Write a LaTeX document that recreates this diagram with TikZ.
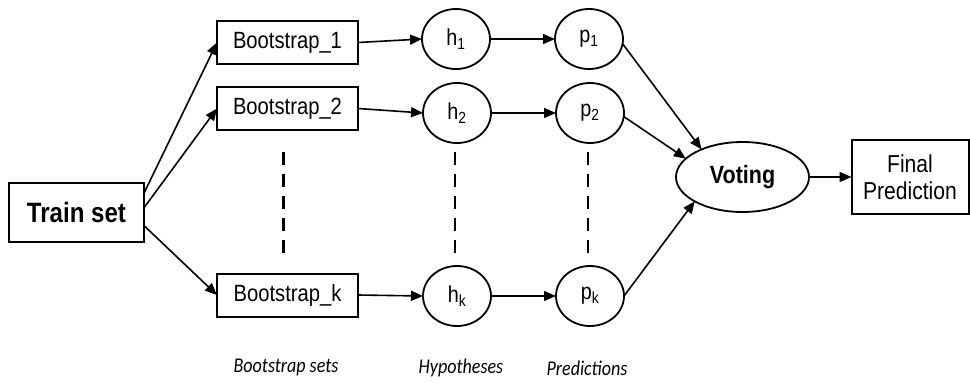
\documentclass[tikz,border=0pt]{standalone}
\usepackage{fontspec}
\setmainfont[FakeStretch=0.86]{Liberation Sans}
\newfontfamily\calib[FakeStretch=0.86]{Carlito}
\usetikzlibrary{arrows.meta,shapes.geometric}
\begin{document}
\begin{tikzpicture}[x=1pt,y=-1pt,
  every node/.style={inner sep=0pt,outer sep=0pt},
  boxnode/.style={draw,line width=2pt,rectangle,align=center},
  ovalnode/.style={draw,line width=1.8pt,ellipse},
  link/.style={line width=1.6pt,-{Triangle[length=12pt,width=10pt]}},
  gapline/.style={line width=2.8pt,dash pattern=on 13pt off 9pt},
  caption/.style={font=\calib\itshape\fontsize{21}{24}\selectfont},
  bootfont/.style={font=\fontsize{23.5}{26}\selectfont},
  circfont/.style={font=\fontsize{23}{26}\selectfont}]
\useasboundingbox (0,0) rectangle (970,383);
% input data
\node[boxnode,minimum width=135pt,minimum height=59pt,font=\bfseries\fontsize{28}{30}\selectfont] (train) at (76.5,212.5) {Train set};
% bootstrap samples
\node[boxnode,bootfont,minimum width=141pt,minimum height=43pt] (b1) at (287.5,42.5) {Bootstrap\_1};
\node[boxnode,bootfont,minimum width=141pt,minimum height=43pt] (b2) at (287.5,108.5) {Bootstrap\_2};
\node[boxnode,bootfont,minimum width=141pt,minimum height=43pt] (bk) at (287.5,295) {Bootstrap\_k};
% hypotheses
\node[ovalnode,circfont,minimum width=68pt,minimum height=60pt] (h1) at (456,39) {h\textsubscript{1}};
\node[ovalnode,circfont,minimum width=68pt,minimum height=60pt] (h2) at (457,113) {h\textsubscript{2}};
\node[ovalnode,circfont,minimum width=68pt,minimum height=60pt] (hk) at (457,296) {h\textsubscript{k}};
% predictions
\node[ovalnode,circfont,minimum width=68pt,minimum height=60pt] (p1) at (589,39) {p\textsubscript{1}};
\node[ovalnode,circfont,minimum width=68pt,minimum height=60pt] (p2) at (590,113) {p\textsubscript{2}};
\node[ovalnode,circfont,minimum width=68pt,minimum height=60pt] (pk) at (590,296) {p\textsubscript{k}};
% aggregation
\node[ovalnode,font=\bfseries\fontsize{25}{28}\selectfont,minimum width=133pt,minimum height=70pt] (vote) at (742.5,177) {Voting};
\node[boxnode,font=\fontsize{24.5}{27}\selectfont,minimum width=117pt,minimum height=74pt] (final) at (910,177) {Final\\Prediction};
% connectors
\draw[link] (train.16) -- (b1.west);
\draw[link] (train.4) -- (b2.west);
\draw[link] (train.-11) -- (bk.west);
\draw[link] (b1.east) -- (h1.west);
\draw[link] (b2.east) -- (h2.west);
\draw[link] (bk.east) -- (hk.west);
\draw[link] (h1.east) -- (p1.west);
\draw[link] (h2.east) -- (p2.west);
\draw[link] (hk.east) -- (pk.west);
\draw[link] (p1.-8) -- (vote.146);
\draw[link] (p2.-6) -- (vote.162);
\draw[link] (pk.east) -- (vote.207);
\draw[link] (vote.east) -- (final.west);
% elided rows
\draw[gapline,shorten <=22pt,shorten >=20pt] ([xshift=-4pt]b2.south) -- ([xshift=-4pt]bk.north);
\draw[gapline,shorten <=9pt,shorten >=13pt] ([xshift=-2pt]h2.south) -- ([xshift=-2pt]hk.north);
\draw[gapline,shorten <=9pt,shorten >=13pt] ([xshift=-2pt]p2.south) -- ([xshift=-2pt]pk.north);
% column captions
\node[caption] (capb) at (286,367) {Bootstrap sets};
\node[caption] (caph) at (461,368) {Hypotheses};
\node[caption] (capp) at (587,368) {Predictions};
\end{tikzpicture}
\end{document}
